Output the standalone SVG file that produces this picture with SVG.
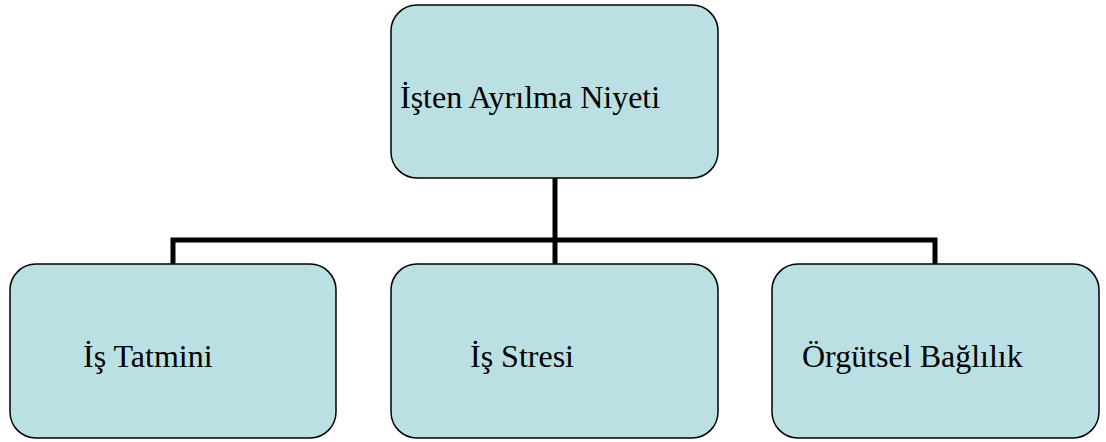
<svg xmlns="http://www.w3.org/2000/svg" width="1106" height="442" viewBox="0 0 1106 442">
<style>
.box{fill:#BBE0E3;stroke:#000;stroke-width:1.5}
.lbl{font-family:"Liberation Serif","Times New Roman",serif;font-size:32px;fill:#000}
.con{fill:none;stroke:#000;stroke-width:5}
</style>
<rect width="1106" height="442" fill="#fff"/>
<g id="connectors">
<path class="con" d="M555,178 V264"/>
<path class="con" d="M173,264 V240 H935 V264"/>
</g>
<g id="n0"><rect class="box" x="391" y="5" width="327" height="173" rx="26"/><text class="lbl" x="400" y="108">İşten Ayrılma Niyeti</text></g>
<g id="n1"><rect class="box" x="10" y="264" width="326" height="174" rx="26"/><text class="lbl" x="83" y="367">İş Tatmini</text></g>
<g id="n2"><rect class="box" x="391" y="264" width="327" height="174" rx="26"/><text class="lbl" x="470" y="367">İş Stresi</text></g>
<g id="n3"><rect class="box" x="772" y="264" width="327" height="174" rx="26"/><text class="lbl" x="802" y="367">Örgütsel Bağlılık</text></g>
</svg>
